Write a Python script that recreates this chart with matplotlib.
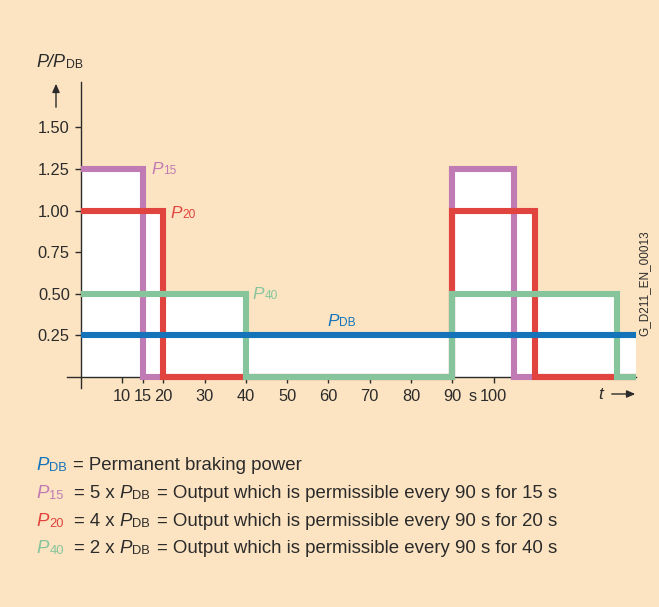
# Permanent braking power vs. short-time braking outputs (step diagram)

import matplotlib
matplotlib.use("Agg")
import matplotlib.pyplot as plt
from matplotlib.patches import FancyArrowPatch

plt.rcParams["font.family"] = ["Liberation Sans", "DejaVu Sans"]

# data: time (s) and P/P_DB for each curve
p15_t = [0, 15, 15, 90, 90, 105, 105, 134.5]
p15_v = [1.25, 1.25, 0, 0, 1.25, 1.25, 0, 0]
p20_t = [0, 20, 20, 90, 90, 110, 110, 134.5]
p20_v = [1.0, 1.0, 0, 0, 1.0, 1.0, 0, 0]
p40_t = [0, 40, 40, 90, 90, 130, 130, 134.5]
p40_v = [0.5, 0.5, 0, 0, 0.5, 0.5, 0, 0]
pdb_t = [0, 134.5]
pdb_v = [0.25, 0.25]

x_ticks = [10, 15, 20, 30, 40, 50, 60, 70, 80, 90, 100]
y_ticks = [0.25, 0.50, 0.75, 1.00, 1.25, 1.50]
y_tick_labels = ["0.25", "0.50", "0.75", "1.00", "1.25", "1.50"]

BG = "#FCE4C2"
C15 = "#C07BB4"
C20 = "#E1443E"
C40 = "#86C59C"
CDB = "#1573BA"
INK = "#2B2B2B"

W, H = 659, 607


def px(x, y):
    # pixel position -> figure fraction
    return x / W, 1 - y / H


fig = plt.figure(figsize=(W / 100, H / 100), dpi=100, facecolor=BG)

# axes placed so that t=0 -> x 80.7 px, 4.128 px/s ; P=0 -> y 377 px, 166.4 px/unit
ax_l, ax_r, ax_t, ax_b = 40, 645, 60, 420
ax = fig.add_axes([ax_l / W, 1 - ax_b / H, (ax_r - ax_l) / W, (ax_b - ax_t) / H])
ax.set_facecolor("none")
ax.set_xlim((ax_l - 80.7) / 4.128, (ax_r - 80.7) / 4.128)
ax.set_ylim((377 - ax_b) / 166.4, (377 - ax_t) / 166.4)

for s in ["top", "right"]:
    ax.spines[s].set_visible(False)
ax.spines["left"].set_position(("data", 0))
ax.spines["bottom"].set_position(("data", 0))
ax.spines["left"].set_bounds(-0.066, 1.773)
ax.spines["bottom"].set_bounds(-3.3, 134.5)
for s in ["left", "bottom"]:
    ax.spines[s].set_color(INK)
    ax.spines[s].set_linewidth(1.0)

ax.set_xticks(x_ticks)
ax.set_xticklabels([str(v) for v in x_ticks])
ax.set_yticks(y_ticks)
ax.set_yticklabels(y_tick_labels)
ax.tick_params(direction="out", length=4.3, width=1.0, color=INK,
               labelcolor=INK, labelsize=11.8)
ax.tick_params(axis="x", pad=4.0)
ax.tick_params(axis="y", pad=3.5)

# white area under the curves
series = [(p15_t, p15_v, C15), (p20_t, p20_v, C20), (p40_t, p40_v, C40), (pdb_t, pdb_v, CDB)]
for t, v, c in series:
    ax.fill_between(t, 0, v, color="white", lw=0, zorder=1)

for i, (t, v, c) in enumerate(series):
    ax.plot(t, v, color=c, lw=4.4, solid_joinstyle="miter",
            solid_capstyle="butt", zorder=4 + i)


def sym(x, y, sub, color, size, subsize, main="P"):
    # italic symbol with a small upright index, y = baseline in pixels
    t = fig.text(*px(x, y), main, color=color, fontsize=size, style="italic",
                 va="baseline", ha="left")
    ax.annotate(sub, xy=(1, 0), xycoords=t, xytext=(0.6, 0),
                textcoords="offset points", va="bottom", ha="left",
                fontsize=subsize, color=color, annotation_clip=False)
    return t


# curve labels
sym(151, 174, "15", C15, 12.4, 8.6)
sym(170, 218, "20", C20, 12.4, 8.6)
sym(252, 299, "40", C40, 12.4, 8.6)
sym(327, 326, "DB", CDB, 12.4, 8.6)

# axis labels and arrows
sym(36, 67, "DB", INK, 13, 8.8, main="P/P")
fig.text(*px(473, 401), "s", color=INK, fontsize=11.8, va="baseline", ha="center")
fig.text(*px(601, 399), "t", color=INK, fontsize=12.4, style="italic",
         va="baseline", ha="center")
fig.add_artist(FancyArrowPatch(
    px(56, 110), px(56, 81), transform=fig.transFigure,
    arrowstyle="-|>,head_length=5,head_width=2.2", color=INK, lw=1.0))
fig.add_artist(FancyArrowPatch(
    px(609, 394), px(638, 394), transform=fig.transFigure,
    arrowstyle="-|>,head_length=5,head_width=2.2", color=INK, lw=1.0))

fig.text(*px(644, 283), "G_D211_EN_00013", color=INK, fontsize=8.5,
         rotation=90, va="center", ha="center")

# legend block
LS = 13.4
body = dict(fontsize=LS, va="baseline", ha="left", color=INK)
sym(36, 470, "DB", CDB, LS, 9.3)
fig.text(*px(73, 470), "= Permanent braking power", **body)

rows = [
    (498, "15", C15, "= 5 x", "= Output which is permissible every 90 s for 15 s"),
    (526, "20", C20, "= 4 x", "= Output which is permissible every 90 s for 20 s"),
    (553, "40", C40, "= 2 x", "= Output which is permissible every 90 s for 40 s"),
]
for y, sub, c, factor, txt in rows:
    sym(36, y, sub, c, LS, 9.3)
    fig.text(*px(74, y), factor, **body)
    sym(119, y, "DB", INK, LS, 9.3)
    fig.text(*px(157, y), txt, **body)

fig.savefig("out.png", dpi=100, facecolor=BG)
